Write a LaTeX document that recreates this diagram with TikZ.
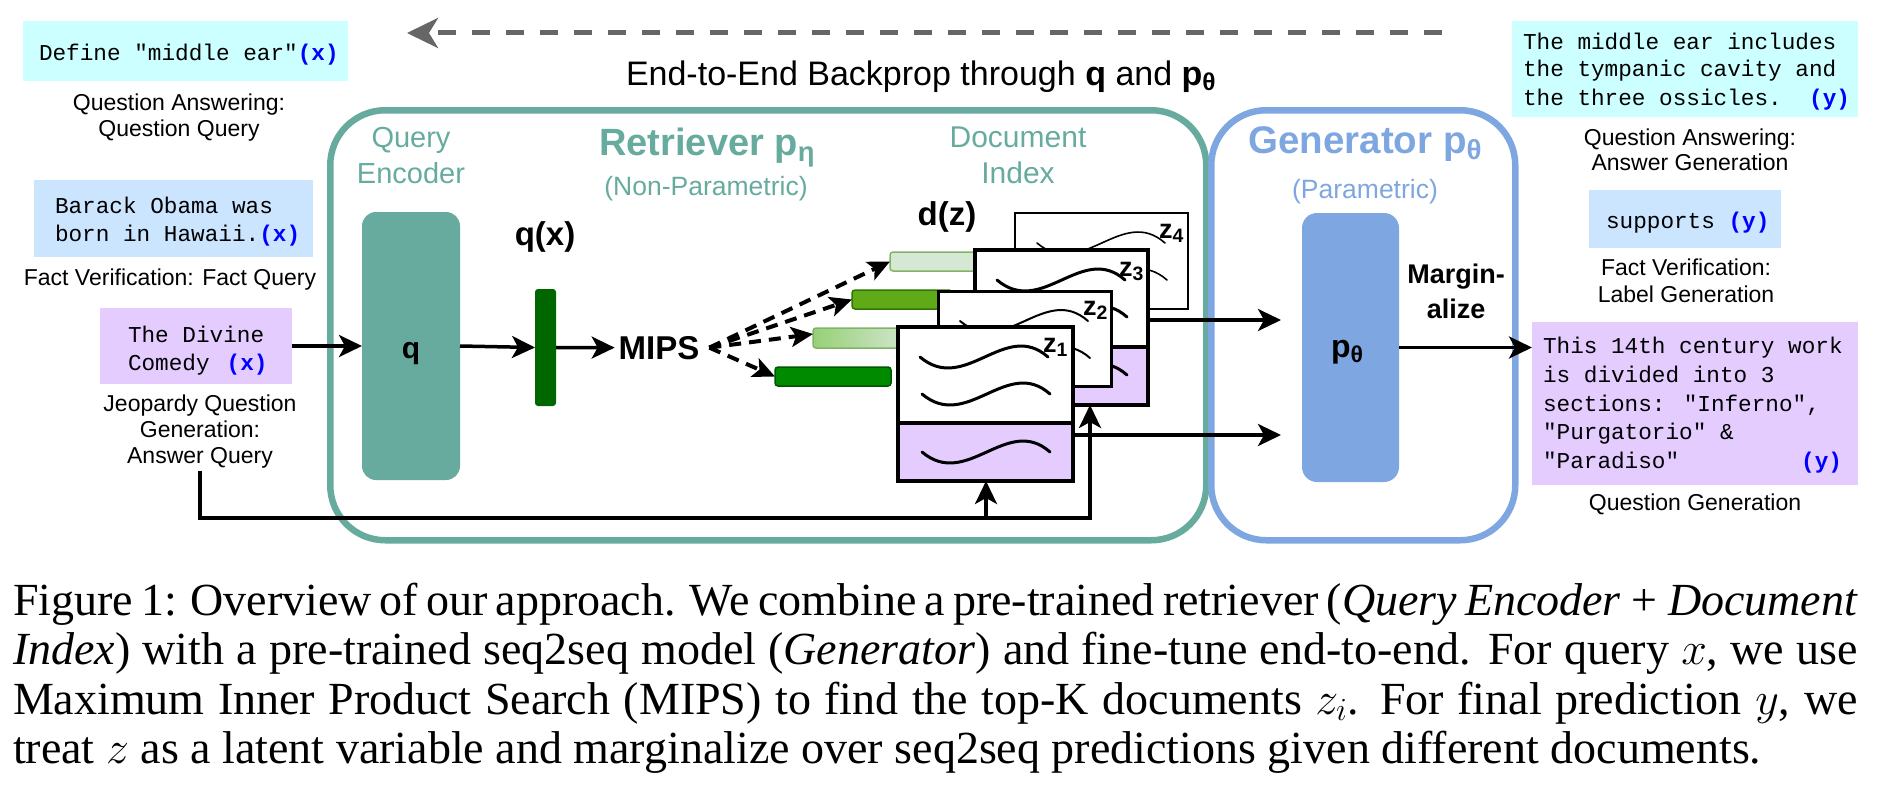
\RequirePackage{fix-cm}
\documentclass[tikz,border=0pt]{standalone}
\usepackage{fontspec}
\setmainfont{Liberation Serif}
\newfontfamily\hv{Liberation Sans}
\newfontfamily\cour{Liberation Mono}
\usetikzlibrary{arrows.meta,calc}
\definecolor{tealc}{HTML}{67AB9F}
\definecolor{bluec}{HTML}{7EA6E0}
\definecolor{cyanbg}{HTML}{CCFFFF}
\definecolor{bluebg}{HTML}{CCE5FF}
\definecolor{lavbg}{HTML}{E5CCFF}
\definecolor{qxg}{HTML}{006600}
\definecolor{gA}{HTML}{008A00}
\definecolor{gAd}{HTML}{005700}
\definecolor{gB}{HTML}{97D077}
\definecolor{gC}{HTML}{60A917}
\definecolor{gCd}{HTML}{2D7600}
\definecolor{gD}{HTML}{D5E8D4}
\definecolor{gDd}{HTML}{82B366}
\definecolor{bpgray}{HTML}{666666}
\definecolor{ylab}{HTML}{0000FF}
\newcommand\fsz[1]{\fontsize{#1}{#1}\selectfont}
\newcommand\lowsub[1]{\raisebox{-0.32ex}{\scalebox{0.72}{#1}}}
\newcommand\inx{{\bfseries\color{ylab}(x)}}
\newcommand\outy{{\bfseries\color{ylab}(y)}}
\newcommand\docwave[3]{\begin{scope}[shift={(#1,#2)}]\draw[line width=#3, line cap=round] (0,0) .. controls (45,38) and (85,-38) .. (128,0);\end{scope}}
\begin{document}
\begin{tikzpicture}[x=1pt,y=-1pt,
  tx/.style={inner sep=0pt, outer sep=0pt, anchor=base west},
  mono/.style={tx, font=\cour\fsz{22.7}},
  lab/.style={inner sep=0pt, outer sep=0pt, anchor=base, font=\hv\fsz{23}},
  tbox/.style={anchor=north west, inner sep=0pt, outer sep=0pt, draw=none},
  docb/.style={draw=black, fill=white, anchor=north west, inner sep=0pt, outer sep=0pt},
  zl/.style={tx, font=\hv\bfseries\fsz{27}},
  barn/.style={anchor=north west, inner sep=0pt, outer sep=0pt, rounded corners=3pt, line width=1.5pt},
  arr/.style={line width=3.5pt, -{Stealth[length=23pt,width=22pt,inset=6pt]}},
  darr/.style={line width=4pt, dash pattern=on 12pt off 8pt, -{Stealth[length=22pt,width=20pt,inset=5pt]}},
  capl/.style={tx, font=\fsz{46}}
]
\useasboundingbox (0,0) rectangle (1884,792);

% back-propagation arrow
\coordinate (bpR) at (1442,33);
\coordinate (bpL) at (407,33);
\draw[bpgray, line width=5pt, dash pattern=on 18pt off 16pt, -{Stealth[length=31pt,width=30pt,inset=9pt]}] (bpR) -- (bpL);
\node[tx, font=\hv\fsz{34}] (bptitle) at (626,85) {End-to-End Backprop through \textbf{q} and \textbf{p\lowsub{θ}}};

% big boxes
\node[draw=tealc, line width=6.5pt, rounded corners=55pt, minimum width=876pt, minimum height=430pt, anchor=north west, inner sep=0pt] (retr) at (327,107) {};
\node[draw=bluec, line width=6.5pt, rounded corners=55pt, minimum width=304pt, minimum height=430pt, anchor=north west, inner sep=0pt] (gen) at (1208,107) {};

% titles
\node[lab, font=\hv\fsz{29}, text=tealc] (tq1) at (411,147) {Query};
\node[lab, font=\hv\fsz{29}, text=tealc] (tq2) at (411,183) {Encoder};
\node[lab, font=\hv\bfseries\fsz{38}, text=tealc] (tret) at (707,155) {Retriever p\lowsub{η}};
\node[lab, font=\hv\fsz{26.5}, text=tealc] (tnp) at (706,195) {(Non-Parametric)};
\node[lab, font=\hv\fsz{30}, text=tealc] (td1) at (1018,147) {Document};
\node[lab, font=\hv\fsz{30}, text=tealc] (td2) at (1018,183) {Index};
\node[lab, font=\hv\bfseries\fsz{38.5}, text=bluec] (tgen) at (1365,153) {Generator p\lowsub{θ}};
\node[lab, font=\hv\fsz{26.5}, text=bluec] (tpar) at (1365,198) {(Parametric)};

% query encoder
\node[tbox, fill=tealc, rounded corners=14pt, minimum width=98pt, minimum height=268pt] (qenc) at (362,212) {};
\node[lab, font=\hv\bfseries\fsz{30}] (qlab) at (411,358) {q};
\node[tbox, fill=qxg, rounded corners=3pt, minimum width=21pt, minimum height=117pt] (qx) at (535,289) {};
\node[lab, font=\hv\bfseries\fsz{33}] (qxlab) at (545,245) {q(x)};
\node[lab, font=\hv\bfseries\fsz{33}, inner sep=4pt] (mips) at (659,359) {MIPS};
\coordinate (ms) at ($(mips.east)+(6,0)$);
\node[lab, font=\hv\bfseries\fsz{33}] (dzlab) at (947,225) {d(z)};

% document vectors
\node[barn, fill=gD, draw=gDd, minimum width=110pt, minimum height=19pt] (b4) at (890,252) {};
\node[barn, fill=gC, draw=gCd, minimum width=100pt, minimum height=19pt] (b3) at (852,290) {};
\node[barn, left color=gB, right color=gD, draw=gDd, minimum width=100pt, minimum height=20pt] (b2) at (813,328) {};
\node[barn, fill=gA, draw=gAd, minimum width=116pt, minimum height=19pt] (b1) at (775,367) {};

% documents
\node[docb, line width=2pt, minimum width=173pt, minimum height=96pt] (z4) at (1015,213) {};
\docwave{1037}{243}{1.6pt}
\docwave{1039}{280}{1.6pt}
\node[zl] (z4l) at (1159,238) {z\lowsub{4}};

\node[docb, line width=4pt, minimum width=173pt, minimum height=155pt] (z3) at (975,250) {};
\filldraw[fill=lavbg, line width=4pt] (975,347) rectangle (1148,405);
\docwave{997}{280}{3pt}
\docwave{999}{317}{3pt}
\docwave{999}{375}{3pt}
\node[zl] (z3l) at (1119,276) {z\lowsub{3}};

\node[docb, line width=3pt, minimum width=173pt, minimum height=95pt] (z2) at (938,291) {};
\docwave{960}{321}{2pt}
\docwave{962}{358}{2pt}
\node[zl] (z2l) at (1083,315) {z\lowsub{2}};

\node[docb, line width=4pt, minimum width=175pt, minimum height=154pt] (z1) at (898,327) {};
\filldraw[fill=lavbg, line width=4pt] (898,423) rectangle (1073,481);
\docwave{920}{357}{3pt}
\docwave{922}{394}{3pt}
\docwave{922}{452}{3pt}
\node[zl] (z1l) at (1043,352) {z\lowsub{1}};

% generator
\node[tbox, fill=bluec, rounded corners=15pt, minimum width=97pt, minimum height=269pt] (pth) at (1302,213) {};
\node[lab, font=\hv\bfseries\fsz{32}] (pthl) at (1347,357) {p\lowsub{θ}};
\node[lab, font=\hv\bfseries\fsz{27}] (mg1) at (1456,283) {Margin-};
\node[lab, font=\hv\bfseries\fsz{27}] (mg2) at (1456,318) {alize};

% left inputs
\node[tbox, fill=cyanbg, minimum width=325pt, minimum height=60pt] (defq) at (23,21) {};
\node[mono] (defqt) at (39,60) {Define "middle ear"\inx};
\node[lab] (qa1) at (179,110) {Question Answering:};
\node[lab] (qa2) at (179,136) {Question Query};

\node[tbox, fill=bluebg, minimum width=279pt, minimum height=77pt] (fq) at (34,180) {};
\node[mono] (fqt1) at (55,213) {Barack Obama was};
\node[mono] (fqt2) at (55,241) {born in Hawaii.\inx};
\node[lab] (fv) at (170,285) {Fact Verification: Fact Query};

\node[tbox, fill=lavbg, minimum width=192pt, minimum height=76pt] (dq) at (100,308) {};
\node[mono] (dqt1) at (128,342) {The Divine};
\node[mono] (dqt2) at (128,370) {Comedy\hspace{17pt}\inx};
\node[lab] (jq1) at (200,411) {Jeopardy Question};
\node[lab] (jq2) at (200,437) {Generation:};
\node[lab, inner sep=3pt] (jq3) at (200,463) {Answer Query};

% right outputs
\node[tbox, fill=cyanbg, minimum width=346pt, minimum height=96pt] (ans) at (1512,21) {};
\node[mono] (ans1) at (1523,49) {The middle ear includes};
\node[mono] (ans2) at (1523,77) {the tympanic cavity and};
\node[mono] (ans3) at (1523,105) {the three ossicles.};
\node[mono, anchor=base east] (ans4) at (1850,105) {\outy};
\node[lab] (ra1) at (1690,145) {Question Answering:};
\node[lab] (ra2) at (1690,170) {Answer Generation};

\node[tbox, fill=bluebg, minimum width=192pt, minimum height=58pt] (sup) at (1589,190) {};
\node[mono] (supt) at (1606,228) {supports \outy};
\node[lab] (rf1) at (1686,275) {Fact Verification:};
\node[lab] (rf2) at (1686,302) {Label Generation};

\node[tbox, fill=lavbg, minimum width=326pt, minimum height=163pt] (qg) at (1532,322) {};
\node[mono] (qg1) at (1543,353) {This 14th century work};
\node[mono] (qg2) at (1543,382) {is divided into 3};
\node[mono] (qg3) at (1543,411) {sections: "Inferno",};
\node[mono] (qg4) at (1543,439) {"Purgatorio" \&};
\node[mono] (qg5) at (1543,468) {"Paradiso"};
\node[mono, anchor=base east] (qg6) at (1842,468) {\outy};
\node[lab] (rq) at (1695,510) {Question Generation};

% connectors
\draw[arr] (dq.east) -- (qenc.west);
\draw[arr] (qenc.east) -- (qx.west);
\draw[arr] (qx.east) -- (mips.west);
\draw[darr] (ms) -- (b4.west);
\draw[darr] (ms) -- (b3.west);
\draw[darr] (ms) -- ($(b2.west)+(0,-4)$);
\draw[darr] (ms) -- (b1.west);
\coordinate (ya) at (0,320);
\coordinate (yb) at (0,435);
\draw[arr, shorten >=21pt] (z3.east |- ya) -- (pth.west |- ya);
\draw[arr, shorten >=21pt] (z1.east |- yb) -- (pth.west |- yb);
\draw[arr] (pth.east) -- (pth.east -| qg.west);
\coordinate (fbL) at (986,518);
\coordinate (fbR) at (1090,518);
\draw[arr] (jq3.south) |- (fbR) -- (z3.south -| fbR);
\draw[arr] (fbL) -- (z1.south -| fbL);

% caption
\node[capl] (cap1) at (13,615) {\makebox[1845pt][s]{Figure 1: Overview of our approach. We combine a pre-trained retriever (\textit{Query Encoder + Document}}};
\node[capl] (cap2) at (13,664) {\makebox[1845pt][s]{\textit{Index}) with a pre-trained seq2seq model (\textit{Generator}) and fine-tune end-to-end. For query $x$, we use}};
\node[capl] (cap3) at (13,714) {\makebox[1845pt][s]{Maximum Inner Product Search (MIPS) to find the top-K documents $z_i$. For final prediction $y$, we}};
\node[capl] (cap4) at (13,763) {treat $z$ as a latent variable and marginalize over seq2seq predictions given different documents.};
\end{tikzpicture}
\end{document}
